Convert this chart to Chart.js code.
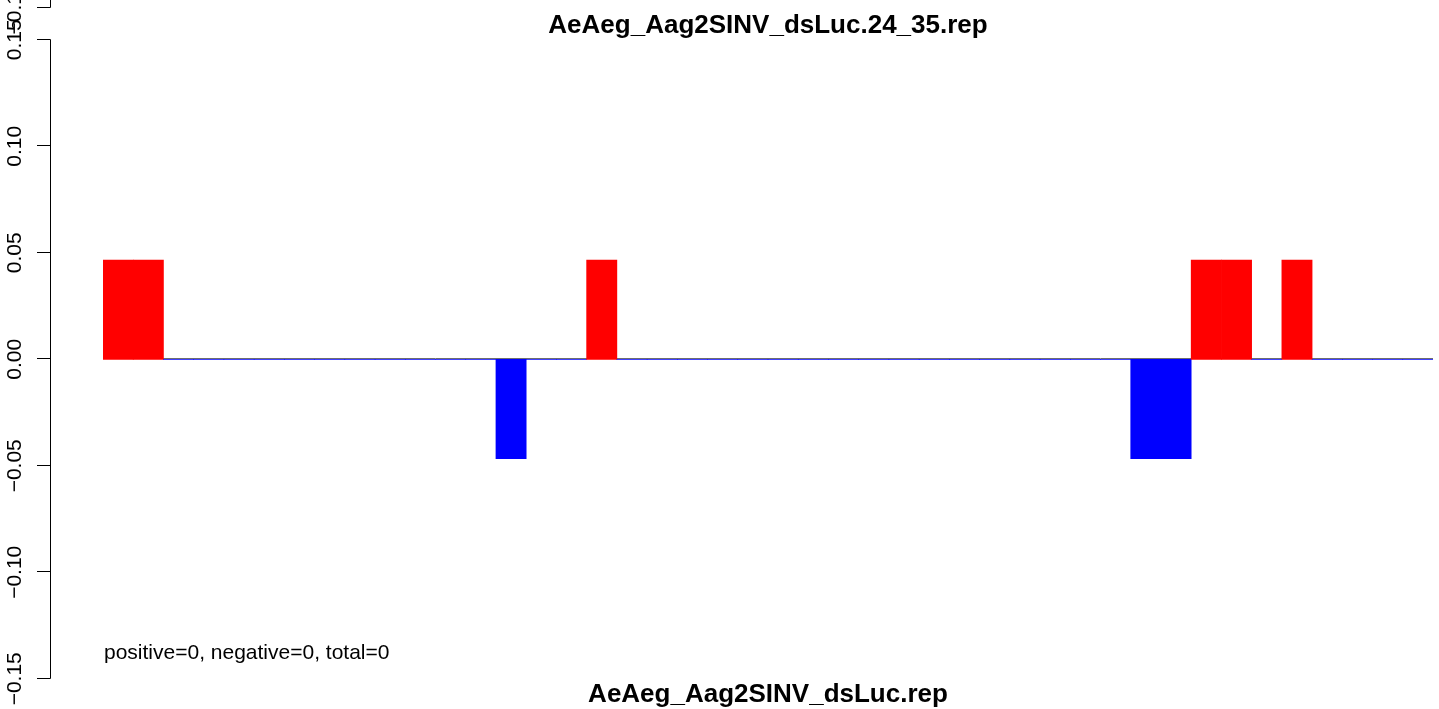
<!DOCTYPE html>
<html>
<head>
<meta charset="utf-8">
<script src="https://cdn.jsdelivr.net/npm/chart.js@4.4.1/dist/chart.umd.min.js"></script>
<style>
html,body{margin:0;padding:0;background:#ffffff;}
#wrap{width:1439px;height:709px;position:relative;overflow:hidden;}
canvas{display:block;}
</style>
</head>
<body>
<div id="wrap"><canvas id="c" width="1439" height="709"></canvas></div>
<script>
// ---- data ----
const categories = ["1","2","3","4","5","6","7","8","9","10","11","12","13","14","15","16","17","18","19","20","21","22","23","24","25","26","27","28","29","30","31","32","33","34","35","36","37","38","39","40","41","42","43","44"];
const values = [0.0466,0.0466,0,0,0,0,0,0,0,0,0,0,0,-0.0466,0,0,0.0466,0,0,0,0,0,0,0,0,0,0,0,0,0,0,0,0,0,-0.0466,-0.0466,0.0466,0.0466,0,0.0466,0,0,0,0];
const yTickValues = [-0.15,-0.10,-0.05,0,0.05,0.10,0.15];
const yTickLabels = ["\u22120.15","\u22120.10","\u22120.05","0.00","0.05","0.10","0.15"];
// bottom end of the axis of the panel above (cut off at the top edge)
const upperAxisTickValue = 0.165;
const upperAxisTickLabel = "\u22120.15";
const mainTitle = "AeAeg_Aag2SINV_dsLuc.24_35.rep";
const bottomTitle = "AeAeg_Aag2SINV_dsLuc.rep";
const noteText = "positive=0, negative=0, total=0";

const FONT = '"Liberation Sans", Arial, Helvetica, sans-serif';

const decor = {
  id: 'decor',
  beforeDatasetsDraw(chart) {
    const ctx = chart.ctx, y = chart.scales.y, a = chart.chartArea;
    const y0 = Math.round(y.getPixelForValue(0)) - 0.5;
    ctx.save();
    ctx.strokeStyle = '#6e6e6e';
    ctx.lineWidth = 1;
    ctx.beginPath();
    ctx.moveTo(a.left, y0);
    ctx.lineTo(a.right, y0);
    ctx.stroke();
    ctx.restore();
  },
  afterDraw(chart) {
    const ctx = chart.ctx, y = chart.scales.y, a = chart.chartArea;
    const axisX = 50.5;
    ctx.save();
    ctx.strokeStyle = '#000';
    ctx.lineWidth = 1;
    // main axis
    const yTop = Math.round(y.getPixelForValue(0.15)) - 0.5;
    const yBot = Math.round(y.getPixelForValue(-0.15)) - 0.5;
    ctx.beginPath();
    ctx.moveTo(axisX, yTop);
    ctx.lineTo(axisX, yBot);
    yTickValues.forEach(v => {
      const py = Math.round(y.getPixelForValue(v)) - 0.5;
      ctx.moveTo(37, py);
      ctx.lineTo(axisX, py);
    });
    // upper axis fragment
    const pu = Math.round(y.getPixelForValue(upperAxisTickValue)) - 0.5;
    ctx.moveTo(axisX, 0);
    ctx.lineTo(axisX, pu);
    ctx.moveTo(37, pu);
    ctx.lineTo(axisX, pu);
    ctx.stroke();

    ctx.fillStyle = '#000';
    ctx.font = '21px ' + FONT;
    ctx.textAlign = 'center';
    ctx.textBaseline = 'alphabetic';
    const drawRot = (txt, py) => {
      ctx.save();
      ctx.translate(21, py);
      ctx.rotate(-Math.PI / 2);
      ctx.fillText(txt, 0, 0);
      ctx.restore();
    };
    yTickValues.forEach((v, i) => drawRot(yTickLabels[i], y.getPixelForValue(v)));
    drawRot(upperAxisTickLabel, y.getPixelForValue(upperAxisTickValue));

    // note
    ctx.textAlign = 'left';
    ctx.fillText(noteText, 104, 659);

    // titles
    const cx = (a.left + a.right) / 2;
    ctx.font = 'bold 26px ' + FONT;
    ctx.textAlign = 'center';
    ctx.fillText(mainTitle, cx, 33);
    ctx.fillText(bottomTitle, cx, 702);
    ctx.restore();
  }
};

new Chart(document.getElementById('c'), {
  type: 'bar',
  data: {
    labels: categories,
    datasets: [{
      data: values,
      backgroundColor: c => (c.raw > 0 ? '#ff0000' : '#0000ff'),
      borderWidth: 0,
      barPercentage: 1.0,
      categoryPercentage: 1.0
    }]
  },
  options: {
    responsive: false,
    animation: false,
    devicePixelRatio: 1,
    layout: { padding: { left: 103, right: 6, top: 39.8, bottom: 30.2 } },
    scales: {
      x: { display: false, offset: true, grid: { display: false } },
      y: { display: false, min: -0.15, max: 0.15, grid: { display: false } }
    },
    plugins: { legend: { display: false }, tooltip: { enabled: false }, title: { display: false } }
  },
  plugins: [decor]
});
</script>
</body>
</html>
